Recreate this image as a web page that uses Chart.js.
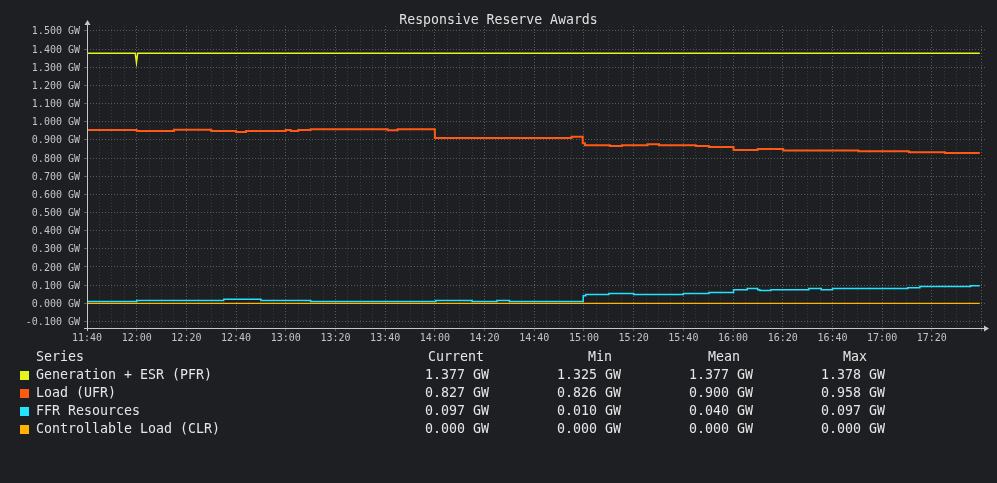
<!DOCTYPE html>
<html>
<head>
<meta charset="utf-8">
<title>Responsive Reserve Awards</title>
<script src="https://cdn.jsdelivr.net/npm/chart.js@4.4.1/dist/chart.umd.min.js"></script>
<style>
  body { margin: 0; background: #1e1f22; }
  #wrap { position: relative; width: 997px; height: 483px; font-family: 'DejaVu Sans Mono', monospace; color: #e6e6e6; overflow: hidden; }
  #chart { position: absolute; left: 0; top: 0; }
  .txt { position: absolute; white-space: pre; font-size: 13.3px; line-height: 16px; }
  .sw { position: absolute; width: 9px; height: 9px; }
  #title { position: absolute; left: 0; width: 997px; top: 12px; text-align: center; font-size: 13.2px; line-height: 16px; color: #e0e0e0; white-space: pre; }
</style>
</head>
<body>
<div id="wrap">
  <canvas id="chart" width="997" height="483"></canvas>
  <div id="title">Responsive Reserve Awards</div>
  <div id="legend"></div>
</div>
<script>
// time is in minutes after 11:40, each value holds until the next change
const xTickLabels = ['11:40', '12:00', '12:20', '12:40', '13:00', '13:20', '13:40', '14:00', '14:20',
                     '14:40', '15:00', '15:20', '15:40', '16:00', '16:20', '16:40', '17:00', '17:20'];
const yTickValues = [-0.1, 0, 0.1, 0.2, 0.3, 0.4, 0.5, 0.6, 0.7, 0.8, 0.9, 1.0, 1.1, 1.2, 1.3, 1.4, 1.5];
const endTime = 359.3;

// Generation + ESR (PFR)
const pfrTimes  = [0, 19.4, 19.9, 20.4, endTime];
const pfrValues = [1.377, 1.377, 1.325, 1.377, 1.377];

// Load (UFR)
const ufrTimes  = [0, 20, 35, 50, 60, 64, 80, 82, 85, 90, 121, 125, 140, 195, 199.5, 200.4,
                   210.5, 215.3, 225.6, 230.2, 245, 250.3, 260.2, 269.9, 280.2, 310.5, 330.8, 345.3, endTime];
const ufrValues = [0.954, 0.949, 0.955, 0.949, 0.943, 0.949, 0.954, 0.949, 0.954, 0.958, 0.953, 0.958, 0.910, 0.917, 0.882, 0.871,
                   0.866, 0.871, 0.876, 0.871, 0.866, 0.861, 0.844, 0.849, 0.842, 0.837, 0.832, 0.827, 0.827];

// FFR Resources
const ffrTimes  = [0, 20, 55, 70, 90, 140.4, 155, 165, 170, 199.7, 200.7, 210, 220, 240, 250.3,
                   260.2, 265.7, 269.9, 270.8, 275.2, 290.5, 295.5, 300, 330.3, 335.2, 355.6, endTime];
const ffrValues = [0.010, 0.016, 0.023, 0.016, 0.010, 0.016, 0.010, 0.016, 0.010, 0.041, 0.048, 0.054, 0.048, 0.054, 0.059,
                   0.075, 0.081, 0.075, 0.070, 0.075, 0.081, 0.075, 0.081, 0.086, 0.093, 0.097, 0.097];

// Controllable Load (CLR)
const clrTimes  = [0, endTime];
const clrValues = [0.000, 0.000];

const seriesNames  = ['Generation + ESR (PFR)', 'Load (UFR)', 'FFR Resources', 'Controllable Load (CLR)'];
const seriesColors = ['#e4f51e', '#ff5a14', '#22e4ff', '#ffb400'];
const statCurrent  = ['1.377 GW', '0.827 GW', '0.097 GW', '0.000 GW'];
const statMin      = ['1.325 GW', '0.826 GW', '0.010 GW', '0.000 GW'];
const statMean     = ['1.377 GW', '0.900 GW', '0.040 GW', '0.000 GW'];
const statMax      = ['1.378 GW', '0.958 GW', '0.097 GW', '0.000 GW'];

// I pair the times with the values for the linear x scale
function toPoints(times, values) {
    return times.map((t, i) => ({ x: t, y: values[i] }));
}

const gridMajor = '#5a5a5a';
const gridMinor = '#383838';
const axisColor = '#c8c8c8';

// I draw the axis lines with little arrow heads, like the original
const axisArrows = {
    id: 'axisArrows',
    afterDraw(chart) {
        const { ctx, chartArea: a } = chart;
        ctx.save();
        ctx.strokeStyle = axisColor;
        ctx.fillStyle = axisColor;
        ctx.lineWidth = 1;
        ctx.beginPath();
        ctx.moveTo(a.left - 3, a.bottom + 0.5);
        ctx.lineTo(a.right, a.bottom + 0.5);
        ctx.moveTo(a.left + 0.5, a.bottom + 3);
        ctx.lineTo(a.left + 0.5, a.top - 1);
        ctx.stroke();
        // x arrow
        ctx.beginPath();
        ctx.moveTo(a.right + 4, a.bottom + 0.5);
        ctx.lineTo(a.right - 1, a.bottom - 2.5);
        ctx.lineTo(a.right - 1, a.bottom + 3.5);
        ctx.closePath();
        ctx.fill();
        // y arrow
        ctx.beginPath();
        ctx.moveTo(a.left + 0.5, a.top - 6);
        ctx.lineTo(a.left - 2.5, a.top - 1);
        ctx.lineTo(a.left + 3.5, a.top - 1);
        ctx.closePath();
        ctx.fill();
        ctx.restore();
    }
};

const tickFont = { family: "'DejaVu Sans Mono', monospace", size: 10 };

new Chart(document.getElementById('chart'), {
    type: 'line',
    data: {
        datasets: [
            { label: seriesNames[0], data: toPoints(pfrTimes, pfrValues), borderColor: seriesColors[0], borderWidth: 1.5, stepped: false },
            { label: seriesNames[1], data: toPoints(ufrTimes, ufrValues), borderColor: seriesColors[1], borderWidth: 2, stepped: true },
            { label: seriesNames[2], data: toPoints(ffrTimes, ffrValues), borderColor: seriesColors[2], borderWidth: 1.5, stepped: true },
            { label: seriesNames[3], data: toPoints(clrTimes, clrValues), borderColor: seriesColors[3], borderWidth: 1.3, stepped: true }
        ]
    },
    options: {
        responsive: false,
        animation: false,
        devicePixelRatio: 1,
        layout: { padding: { left: 0, right: 12, top: 26, bottom: 0 } },
        elements: { point: { radius: 0 }, line: { tension: 0 } },
        plugins: {
            legend: { display: false },
            title: { display: false },
            tooltip: { enabled: false }
        },
        scales: {
            x: {
                type: 'linear',
                min: 0,
                max: 361.4,
                afterFit: s => { s.height = 155; },
                afterBuildTicks: s => {
                    const ticks = [];
                    for (let v = 0; v <= 360; v += 5) ticks.push({ value: v });
                    s.ticks = ticks;
                },
                grid: {
                    color: c => (c.tick && c.tick.value % 20 === 0) ? gridMajor : gridMinor,
                    tickColor: c => (c.tick && c.tick.value % 20 === 0) ? gridMajor : 'rgba(0,0,0,0)',
                    tickLength: 3,
                    lineWidth: 1
                },
                border: { display: false, dash: [1, 2] },
                ticks: {
                    autoSkip: false,
                    maxRotation: 0,
                    padding: 1,
                    color: '#c4c4c4',
                    font: tickFont,
                    callback: v => (v % 20 === 0 && xTickLabels[v / 20]) ? xTickLabels[v / 20] : ''
                }
            },
            y: {
                type: 'linear',
                min: -0.136,
                max: 1.527,
                afterFit: s => { s.width = 87; },
                afterBuildTicks: s => { s.ticks = yTickValues.map(v => ({ value: v })); },
                grid: { color: gridMajor, tickColor: gridMajor, tickLength: 3, lineWidth: 1 },
                border: { display: false, dash: [1, 2] },
                ticks: {
                    autoSkip: false,
                    padding: 4,
                    labelOffset: 1,
                    color: '#c4c4c4',
                    font: tickFont,
                    callback: v => v.toFixed(3) + ' GW'
                }
            }
        }
    },
    plugins: [axisArrows]
});

// I build the legend table as real text below the chart
const legend = document.getElementById('legend');
function addText(str, left, top) {
    const d = document.createElement('div');
    d.className = 'txt';
    d.textContent = str;
    d.style.left = left + 'px';
    d.style.top = top + 'px';
    legend.appendChild(d);
}
const headTop = 349;
addText('Series', 36, headTop);
addText('Current', 428, headTop);
addText('Min', 588, headTop);
addText('Mean', 708, headTop);
addText('Max', 843, headTop);
seriesNames.forEach((name, i) => {
    const top = 367 + i * 18;
    const sw = document.createElement('div');
    sw.className = 'sw';
    sw.style.left = '20px';
    sw.style.top = (top + 4) + 'px';
    sw.style.background = seriesColors[i];
    legend.appendChild(sw);
    addText(name, 36, top);
    addText(statCurrent[i], 425, top);
    addText(statMin[i], 557, top);
    addText(statMean[i], 689, top);
    addText(statMax[i], 821, top);
});
</script>
</body>
</html>
